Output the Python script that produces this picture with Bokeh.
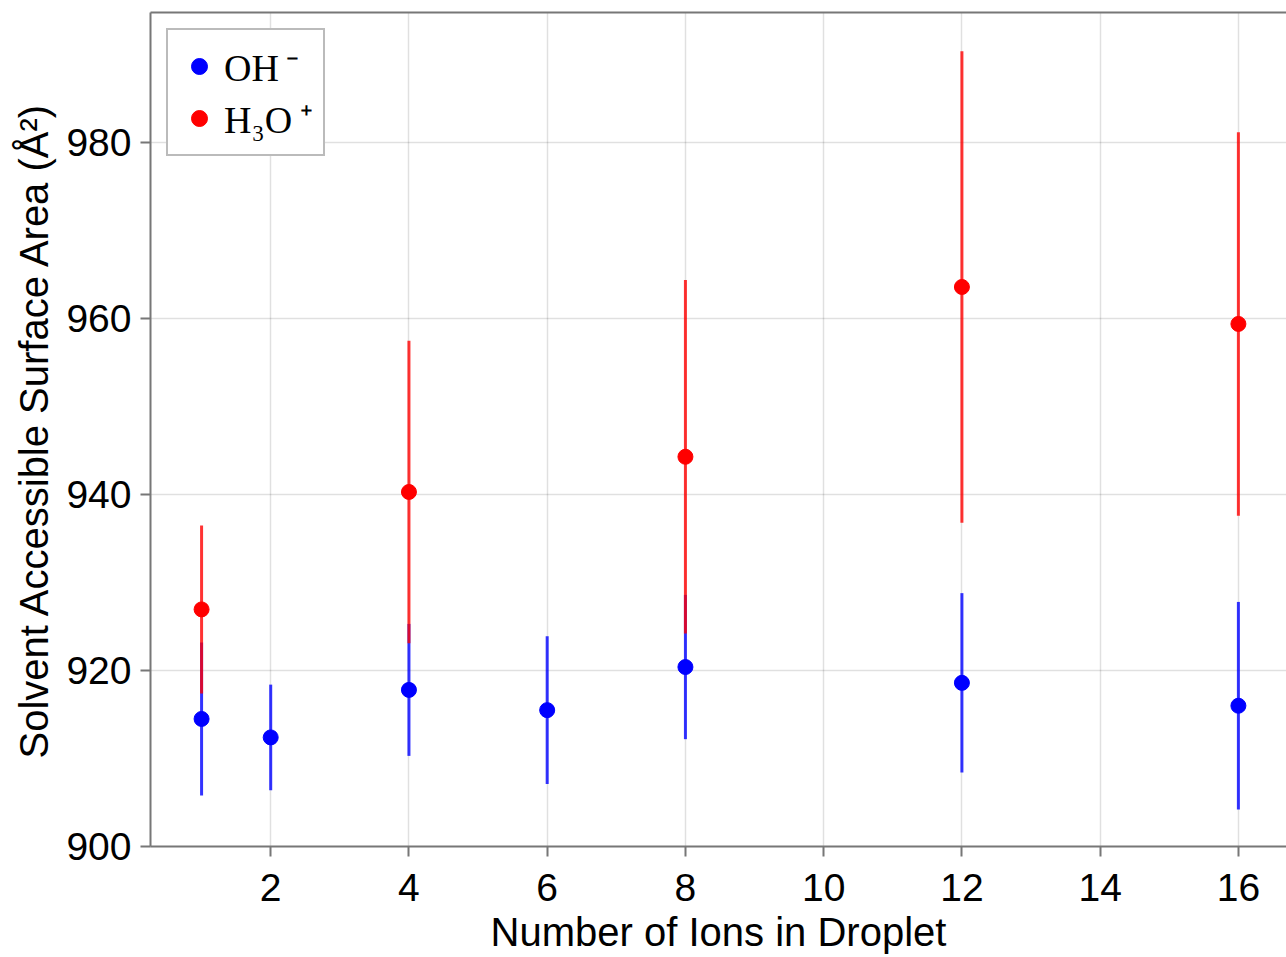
from bokeh.plotting import figure
from bokeh.models import Range1d, LinearAxis, FixedTicker, ColumnDataSource, Legend, LegendItem
from bokeh.embed import file_html
from bokeh.resources import INLINE

# Data
ions_oh = [1, 2, 4, 6, 8, 12, 16]
sasa_oh = [914.5, 912.4, 917.8, 915.5, 920.4, 918.6, 916.0]
err_oh = [8.7, 6.0, 7.5, 8.4, 8.2, 10.2, 11.8]

ions_h3o = [1, 4, 8, 12, 16]
sasa_h3o = [926.95, 940.3, 944.3, 963.6, 959.4]
err_h3o = [9.55, 17.2, 20.1, 26.8, 21.8]

x_ticks = [2, 4, 6, 8, 10, 12, 14, 16]
y_ticks = [900, 920, 940, 960, 980]

AXIS_GRAY = "#777777"
SANS = "Liberation Sans"
SERIF = "Liberation Serif"

src_oh = ColumnDataSource(dict(
    x=ions_oh, y=sasa_oh,
    lo=[v - e for v, e in zip(sasa_oh, err_oh)],
    hi=[v + e for v, e in zip(sasa_oh, err_oh)],
))
src_h3o = ColumnDataSource(dict(
    x=ions_h3o, y=sasa_h3o,
    lo=[v - e for v, e in zip(sasa_h3o, err_h3o)],
    hi=[v + e for v, e in zip(sasa_h3o, err_h3o)],
))

p = figure(width=1286, height=957, output_backend="svg", toolbar_location=None,
           x_range=Range1d(0.261, 16.696), y_range=Range1d(900, 994.8),
           min_border_left=150, min_border_right=0, min_border_top=12, min_border_bottom=111)

p.outline_line_color = None
p.background_fill_color = "white"
p.border_fill_color = "white"

# error bars
p.segment(x0="x", y0="lo", x1="x", y1="hi", source=src_oh, line_color="blue", line_width=3, line_alpha=0.8)
r_oh = p.scatter("x", "y", source=src_oh, size=15, color="blue", line_color="blue")
p.segment(x0="x", y0="lo", x1="x", y1="hi", source=src_h3o, line_color="red", line_width=3, line_alpha=0.8)
r_h3o = p.scatter("x", "y", source=src_h3o, size=15, color="red", line_color="red")

# axes
for ax in (p.xaxis[0], p.yaxis[0]):
    ax.axis_line_color = AXIS_GRAY
    ax.axis_line_width = 2
    ax.major_tick_line_color = AXIS_GRAY
    ax.major_tick_line_width = 2
    ax.major_tick_out = 10
    ax.major_tick_in = 0
    ax.minor_tick_line_color = None
    ax.major_label_text_font = SANS
    ax.major_label_text_font_size = "39px"
    ax.major_label_text_color = "black"
    ax.axis_label_text_font = SANS
    ax.axis_label_text_font_size = "40px"
    ax.axis_label_text_font_style = "normal"
    ax.axis_label_text_color = "black"

p.xaxis[0].ticker = FixedTicker(ticks=x_ticks)
p.yaxis[0].ticker = FixedTicker(ticks=y_ticks)
p.xaxis[0].axis_label = "Number of Ions in Droplet"
p.yaxis[0].axis_label = "Solvent Accessible Surface Area (Å²)"
p.xaxis[0].major_label_standoff = 17
p.xaxis[0].axis_label_standoff = 6
p.yaxis[0].major_label_standoff = 9
p.yaxis[0].axis_label_standoff = 7

top = LinearAxis(ticker=FixedTicker(ticks=[]), major_tick_out=0, major_tick_in=0,
                 minor_tick_out=0, minor_tick_in=0, major_label_text_font_size="0px",
                 major_label_standoff=0, axis_line_color=AXIS_GRAY, axis_line_width=2)
p.add_layout(top, "above")

p.xgrid.ticker = FixedTicker(ticks=x_ticks)
p.ygrid.ticker = FixedTicker(ticks=y_ticks)
p.grid.grid_line_color = "black"
p.grid.grid_line_alpha = 0.12
p.grid.grid_line_width = 1.5

legend = Legend(items=[LegendItem(label="OH\u2009⁻", renderers=[r_oh]),
                       LegendItem(label="H₃O\u2009⁺", renderers=[r_h3o])],
                location="top_left")
legend.margin = 16
legend.padding = 10
legend.spacing = -2
legend.label_height = 40
legend.glyph_height = 40
legend.glyph_width = 42
legend.label_standoff = 4
legend.label_text_font = SERIF
legend.label_text_font_size = "38px"
legend.label_text_color = "black"
legend.border_line_color = AXIS_GRAY
legend.border_line_width = 2
legend.background_fill_color = "white"
legend.background_fill_alpha = 1.0
p.add_layout(legend)

open("out.html", "w").write(file_html(p, INLINE))
